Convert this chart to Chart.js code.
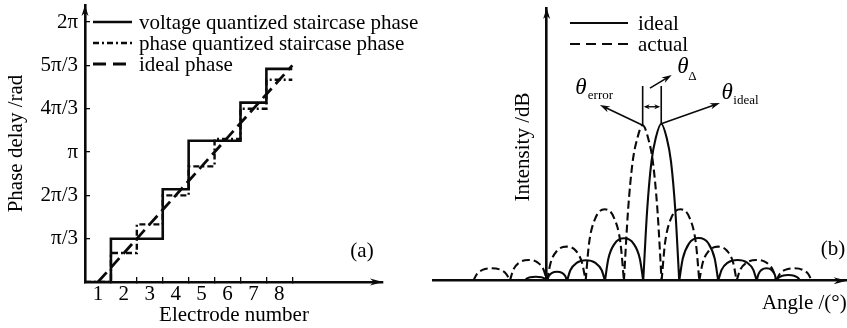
<!DOCTYPE html>
<html><head><meta charset="utf-8">
<script src="https://cdn.jsdelivr.net/npm/chart.js@4"></script>
<style>
html,body{margin:0;padding:0;background:#fff;}
#wrap{position:relative;width:847px;height:328px;background:#fff;}
canvas{position:absolute;top:0;}
#ca{left:0;} #cb{left:420px;}
</style></head><body>
<div id="wrap"><canvas id="ca" width="420" height="328"></canvas><canvas id="cb" width="427" height="328"></canvas></div>
<script>
// ---------- Panel (a) data ----------
const electrodes = [1, 2, 3, 4, 5, 6, 7, 8];
const electrodeLabels = ['1', '2', '3', '4', '5', '6', '7', '8'];
const phaseTickValues = [1, 2, 3, 4, 5, 6];            // in units of π/3
const phaseTickLabels = ['π/3', '2π/3', 'π', '4π/3', '5π/3', '2π'];
const voltageEdges = [0.5, 1.5, 3.5, 4.5, 6.5, 7.5, 8.5];
const voltagePhase = [0, 1.0, 2.14, 3.26, 4.14, 4.92, 4.92];
const quantEdges = [0.5, 1.5, 2.5, 3.5, 4.5, 5.5, 6.5, 7.5, 8.5];
const quantPhase = [0, 0.67, 1.33, 2.0, 2.67, 3.3, 4.0, 4.67, 4.67];
const idealX = [1, 8.5];
const idealPhase = [0, 5.0];
const legendA = ['voltage quantized staircase phase', 'phase quantized staircase phase', 'ideal phase'];

// ---------- Panel (b) data ----------
const idealAngle = [
  -1.16, -1.06, -0.87, -0.58, -0.29, -0.10, 0.0, 0.0,
  0.02, 0.12, 0.29, 0.55, 0.82, 0.99, 1.09, 1.09,
  1.09, 1.27, 1.60, 2.10, 2.60, 2.93, 3.11, 3.11,
  3.11, 3.29, 3.62, 4.13, 4.64, 4.97, 5.15, 5.15,
  5.15, 5.36, 5.59, 5.82, 6.11, 6.40, 6.63, 6.86, 7.07, 7.07,
  7.07, 7.26, 7.59, 8.11, 8.63, 8.96, 9.15, 9.15,
  9.15, 9.33, 9.66, 10.18, 10.69, 11.02, 11.2, 11.2,
  11.2, 11.29, 11.46, 11.73, 11.99, 12.16, 12.25, 12.25,
  12.25, 12.36, 12.57, 12.88, 13.2, 13.4, 13.51
];
const idealIntensity = [
  0, 0.13, 0.22, 0.25, 0.22, 0.13, 0, null,
  0, 0.30, 0.50, 0.57, 0.50, 0.30, 0, null,
  0, 0.68, 1.13, 1.30, 1.13, 0.68, 0, null,
  0, 1.40, 2.35, 2.70, 2.35, 1.40, 0, null,
  0, 4.5, 7.6, 9.1, 10.0, 9.1, 7.6, 4.5, 0, null,
  0, 1.41, 2.37, 2.72, 2.37, 1.41, 0, null,
  0, 0.69, 1.15, 1.32, 1.15, 0.69, 0, null,
  0, 0.41, 0.69, 0.79, 0.69, 0.41, 0, null,
  0, 0.19, 0.31, 0.36, 0.31, 0.19, 0
];
const actualAngle = [
  -3.91, -3.73, -3.42, -2.94, -2.45, -2.14, -1.96, -1.96,
  -1.96, -1.78, -1.47, -0.97, -0.47, -0.16, 0.02, 0.02,
  0.02, 0.21, 0.54, 1.05, 1.57, 1.89, 2.08, 2.08,
  2.08, 2.26, 2.59, 3.10, 3.61, 3.94, 4.12, 4.12,
  4.12, 4.34, 4.58, 4.82, 5.12, 5.43, 5.67, 5.91, 6.13, 6.13,
  6.13, 6.31, 6.63, 7.14, 7.64, 7.96, 8.14, 8.14,
  8.14, 8.32, 8.64, 9.14, 9.63, 9.95, 10.13, 10.13,
  10.13, 10.32, 10.66, 11.19, 11.72, 12.06, 12.25, 12.25,
  12.25, 12.42, 12.72, 13.19, 13.66, 13.96, 14.13
];
const actualIntensity = [
  0, 0.41, 0.69, 0.79, 0.69, 0.41, 0, null,
  0, 0.69, 1.15, 1.32, 1.15, 0.69, 0, null,
  0, 1.13, 1.89, 2.17, 1.89, 1.13, 0, null,
  0, 2.37, 3.96, 4.55, 3.96, 2.37, 0, null,
  0, 4.46, 7.52, 9.0, 9.9, 9.0, 7.52, 4.46, 0, null,
  0, 2.37, 3.96, 4.55, 3.96, 2.37, 0, null,
  0, 1.13, 1.89, 2.17, 1.89, 1.13, 0, null,
  0, 0.69, 1.15, 1.32, 1.15, 0.69, 0, null,
  0, 0.41, 0.69, 0.79, 0.69, 0.41, 0
];
const legendB = ['ideal', 'actual'];

// ---------- helpers ----------
const FONT = "'Liberation Serif','Times New Roman',serif";
Chart.defaults.font.family = FONT;
Chart.defaults.font.size = 21;
Chart.defaults.color = '#000';
const INK = '#0a0a0a';
const toXY = (xs, ys) => xs.map((x, i) => ({x: x, y: ys[i]}));

function arrowHead(ctx, x, y, ang, len, half) {
  ctx.save();
  ctx.translate(x, y); ctx.rotate(ang);
  ctx.beginPath();
  ctx.moveTo(0, 0); ctx.lineTo(-len, -half); ctx.lineTo(-len * 0.7, 0); ctx.lineTo(-len, half);
  ctx.closePath(); ctx.fillStyle = INK; ctx.fill();
  ctx.restore();
}
function arrow(ctx, x1, y1, x2, y2, w, len, half) {
  ctx.save();
  ctx.strokeStyle = INK; ctx.lineWidth = w; ctx.setLineDash([]);
  const a = Math.atan2(y2 - y1, x2 - x1);
  ctx.beginPath(); ctx.moveTo(x1, y1);
  ctx.lineTo(x2 - Math.cos(a) * len * 0.6, y2 - Math.sin(a) * len * 0.6); ctx.stroke();
  arrowHead(ctx, x2, y2, a, len, half);
  ctx.restore();
}
function noPad(s) { s.paddingTop = 0; s.paddingBottom = 0; s.paddingLeft = 0; s.paddingRight = 0; }

// ---------- Panel (a) ----------
const plugA = {
  id: 'plugA',
  afterDraw(chart) {
    const ctx = chart.ctx, ca = chart.chartArea;
    arrowHead(ctx, ca.left, ca.top, -Math.PI / 2, 11, 3.5);
    arrowHead(ctx, ca.right, ca.bottom, 0, 13, 3.5);
    const rows = [22, 43, 64];
    chart.data.datasets.forEach((ds, i) => {
      ctx.save();
      ctx.strokeStyle = INK; ctx.lineWidth = ds.borderWidth;
      ctx.setLineDash(ds.legendDash || []);
      ctx.beginPath(); ctx.moveTo(93, rows[i]); ctx.lineTo(132, rows[i]); ctx.stroke();
      ctx.setLineDash([]);
      ctx.fillStyle = '#000'; ctx.font = '21px ' + FONT;
      ctx.textAlign = 'left'; ctx.textBaseline = 'middle';
      ctx.fillText(legendA[i], 139, rows[i] + 1);
      ctx.restore();
    });
    ctx.save();
    ctx.fillStyle = '#000'; ctx.font = '21px ' + FONT;
    ctx.textAlign = 'center'; ctx.textBaseline = 'middle';
    ctx.fillText('(a)', 362, 251);
    ctx.restore();
  }
};

new Chart(document.getElementById('ca'), {
  type: 'line',
  data: {datasets: [
    {label: legendA[0], data: toXY(voltageEdges, voltagePhase), stepped: 'before',
     borderColor: INK, borderWidth: 2.6, pointRadius: 0, fill: false, legendDash: []},
    {label: legendA[1], data: toXY(quantEdges, quantPhase), stepped: 'before',
     borderColor: INK, borderWidth: 2.4, borderDash: [6, 3, 2, 3], pointRadius: 0, fill: false, legendDash: [6, 3, 2, 3]},
    {label: legendA[2], data: toXY(idealX, idealPhase),
     borderColor: INK, borderWidth: 2.8, borderDash: [13, 6], pointRadius: 0, fill: false, legendDash: [13, 7]}
  ]},
  options: {
    responsive: false, animation: false,
    layout: {padding: {top: 5, right: 37, left: 0, bottom: 0}},
    plugins: {legend: {display: false}, tooltip: {enabled: false}},
    scales: {
      x: {type: 'linear', min: 0.5, max: 12,
        afterBuildTicks: s => { s.ticks = electrodes.map(v => ({value: v})); },
        afterFit: s => { s.height = 46; noPad(s); },
        grid: {display: true, offset: true, drawOnChartArea: false, drawTicks: true, tickLength: -5, tickWidth: 1.3, tickColor: INK, lineWidth: 1.3, color: INK},
        border: {display: true, color: INK, width: 2.6},
        ticks: {padding: 5, color: '#000', autoSkip: false, maxRotation: 0, callback: (v, i) => electrodeLabels[i]},
        title: {display: true, text: 'Electrode number', color: '#000', padding: {top: 0, bottom: 0}}
      },
      y: {type: 'linear', min: 0, max: 6.394,
        afterBuildTicks: s => { s.ticks = phaseTickValues.map(v => ({value: v})); },
        afterFit: s => { s.width = 85; noPad(s); },
        grid: {display: true, drawOnChartArea: false, drawTicks: true, tickLength: -5, tickWidth: 1.3, tickColor: INK, lineWidth: 1.3, color: INK},
        border: {display: true, color: INK, width: 2.6},
        ticks: {padding: 12, color: '#000', callback: (v, i) => phaseTickLabels[i]},
        title: {display: true, text: 'Phase delay /rad', color: '#000', padding: {top: 4, bottom: 0}}
      }
    }
  },
  plugins: [plugA]
});

// ---------- Panel (b) ----------
function peakOf(xs, ys) {
  let k = 0;
  ys.forEach((v, i) => { if (v !== null && v > ys[k]) k = i; });
  return {x: xs[k], y: ys[k]};
}
const plugB = {
  id: 'plugB',
  afterDraw(chart) {
    const ctx = chart.ctx, ca = chart.chartArea;
    const xs = chart.scales.x, ys = chart.scales.y;
    const px = v => xs.getPixelForValue(v), py = v => ys.getPixelForValue(v);
    const x0 = px(0);
    arrowHead(ctx, x0, ca.top, -Math.PI / 2, 11, 3.5);
    arrowHead(ctx, ca.right, ca.bottom, 0, 13, 3.5);
    const rows = [23, 44];
    chart.data.datasets.forEach((ds, i) => {
      ctx.save();
      ctx.strokeStyle = INK; ctx.lineWidth = 2.2;
      ctx.setLineDash(ds.legendDash || []);
      ctx.beginPath(); ctx.moveTo(150, rows[i]); ctx.lineTo(i ? 212 : 208, rows[i]); ctx.stroke();
      ctx.setLineDash([]);
      ctx.fillStyle = '#000'; ctx.font = '21px ' + FONT;
      ctx.textAlign = 'left'; ctx.textBaseline = 'middle';
      ctx.fillText(legendB[i], 218, rows[i] + 1);
      ctx.restore();
    });
    const pa = peakOf(actualAngle, actualIntensity);
    const pi = peakOf(idealAngle, idealIntensity);
    ctx.save();
    ctx.strokeStyle = INK; ctx.lineWidth = 1.6; ctx.setLineDash([]);
    ctx.beginPath();
    ctx.moveTo(px(pa.x), py(pa.y)); ctx.lineTo(px(pa.x), py(12.4));
    ctx.moveTo(px(pi.x), py(pi.y)); ctx.lineTo(px(pi.x), py(12.4));
    ctx.stroke();
    const yd = py(11.08), xa = px(pa.x) + 1, xb = px(pi.x) - 1, xm = (xa + xb) / 2;
    arrow(ctx, xm, yd, xa, yd, 1.4, 6, 2.6);
    arrow(ctx, xm, yd, xb, yd, 1.4, 6, 2.6);
    arrow(ctx, px(5.51), py(12.27), px(6.67), py(13.1), 1.6, 10, 3.2);
    arrow(ctx, px(pa.x), py(pa.y), px(2.84), py(11.19), 1.6, 10, 3.2);
    arrow(ctx, px(pi.x), py(pi.y), px(9.24), py(11.32), 1.6, 10, 3.2);
    ctx.fillStyle = '#000'; ctx.textAlign = 'center'; ctx.textBaseline = 'middle';
    ctx.font = 'italic 23px ' + FONT;
    ctx.fillText('θ', px(1.83), py(12.27));
    ctx.fillText('θ', px(7.27), py(13.63));
    ctx.fillText('θ', px(9.62), py(11.96));
    ctx.font = '13px ' + FONT;
    ctx.fillText('error', px(2.87), py(11.76));
    ctx.fillText('Δ', px(7.78), py(12.97));
    ctx.fillText('ideal', px(10.63), py(11.45));
    ctx.font = '21px ' + FONT;
    ctx.fillText('(b)', 413, 249);
    ctx.translate(103, 147); ctx.rotate(-Math.PI / 2);
    ctx.fillText('Intensity /dB', 0, 0);
    ctx.restore();
  }
};

new Chart(document.getElementById('cb'), {
  type: 'line',
  data: {datasets: [
    {label: legendB[0], data: toXY(idealAngle, idealIntensity), borderColor: INK, borderWidth: 2.1,
     pointRadius: 0, fill: false, cubicInterpolationMode: 'monotone', spanGaps: false, legendDash: []},
    {label: legendB[1], data: toXY(actualAngle, actualIntensity), borderColor: INK, borderWidth: 2.1,
     borderDash: [8, 4], pointRadius: 0, fill: false, cubicInterpolationMode: 'monotone', spanGaps: false, legendDash: [10, 6]}
  ]},
  options: {
    responsive: false, animation: false,
    layout: {padding: {top: 8, right: 0.3, left: 13, bottom: 0}},
    plugins: {legend: {display: false}, tooltip: {enabled: false}},
    scales: {
      x: {type: 'linear', min: -6.06, max: 16,
        afterFit: s => { s.height = 47.3; noPad(s); },
        ticks: {display: false}, grid: {display: false, drawTicks: false},
        border: {display: true, color: INK, width: 2.6},
        title: {display: true, text: 'Angle /(°)', align: 'end', color: '#000', padding: {top: 0, bottom: 12.4}}
      },
      y: {type: 'linear', min: 0, max: 17.37, position: {x: 0},
        afterFit: s => { noPad(s); },
        ticks: {display: false}, grid: {display: false, drawTicks: false},
        border: {display: true, color: INK, width: 2.6}
      }
    }
  },
  plugins: [plugB]
});
</script>
</body></html>
